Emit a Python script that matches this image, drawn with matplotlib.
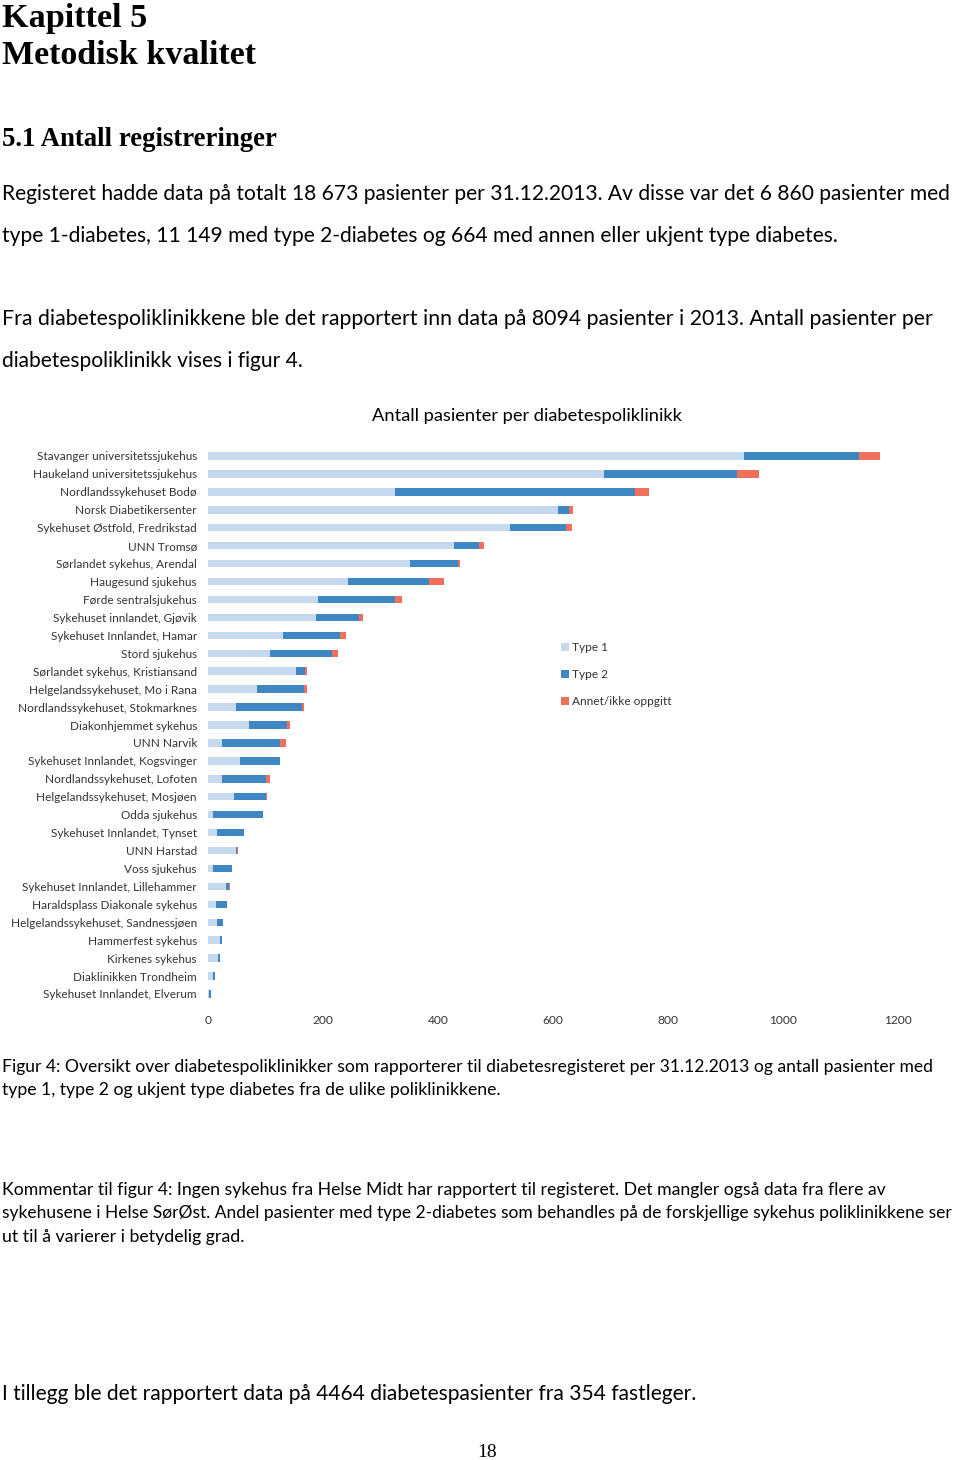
import matplotlib
matplotlib.use("Agg")
import matplotlib.pyplot as plt
from matplotlib.patches import Patch

W, H = 960, 1460
DPI = 100

clinics = [
    "Stavanger universitetssjukehus",
    "Haukeland universitetssjukehus",
    "Nordlandssykehuset Bodø",
    "Norsk Diabetikersenter",
    "Sykehuset Østfold, Fredrikstad",
    "UNN Tromsø",
    "Sørlandet sykehus, Arendal",
    "Haugesund sjukehus",
    "Førde sentralsjukehus",
    "Sykehuset innlandet, Gjøvik",
    "Sykehuset Innlandet, Hamar",
    "Stord sjukehus",
    "Sørlandet sykehus, Kristiansand",
    "Helgelandssykehuset, Mo i Rana",
    "Nordlandssykehuset, Stokmarknes",
    "Diakonhjemmet sykehus",
    "UNN Narvik",
    "Sykehuset Innlandet, Kogsvinger",
    "Nordlandssykehuset, Lofoten",
    "Helgelandssykehuset, Mosjøen",
    "Odda sjukehus",
    "Sykehuset Innlandet, Tynset",
    "UNN Harstad",
    "Voss sjukehus",
    "Sykehuset Innlandet, Lillehammer",
    "Haraldsplass Diakonale sykehus",
    "Helgelandssykehuset, Sandnessjøen",
    "Hammerfest sykehus",
    "Kirkenes sykehus",
    "Diaklinikken Trondheim",
    "Sykehuset Innlandet, Elverum",
]
type1 = [933, 688, 326, 608, 525, 427, 351, 243, 191, 188, 131, 107, 153, 86, 48,
         71, 24, 55, 24, 46, 9, 16, 48, 9, 31, 14, 16, 21, 18, 9, 2]
type2 = [200, 232, 416, 20, 97, 44, 83, 141, 135, 74, 99, 109, 16, 81, 115,
         66, 102, 71, 77, 54, 86, 46, 2, 32, 6, 19, 10, 3, 3, 3, 4]
annet = [35, 38, 25, 6, 11, 9, 5, 26, 12, 7, 10, 10, 3, 5, 4,
         5, 9, 0, 6, 2, 0, 0, 3, 0, 2, 0, 0, 0, 0, 0, 0]
series_labels = ["Type 1", "Type 2", "Annet/ikke oppgitt"]
xticks = [0, 200, 400, 600, 800, 1000, 1200]

c1, c2, c3 = "#c6d9ef", "#3f87c2", "#f1705d"

SERIF = ["Liberation Serif", "DejaVu Serif"]
SANS = ["Lato", "DejaVu Sans"]

fig = plt.figure(figsize=(W / DPI, H / DPI), dpi=DPI)
fig.patch.set_facecolor("white")
renderer = fig.canvas.get_renderer()


def fx(x):
    return x / W


def fy(y):
    return 1 - y / H


def txt(x, y, s, size, family=SANS, weight="normal", ha="left", width=None, **kw):
    t = fig.text(fx(x), fy(y), s, fontsize=size, family=family, weight=weight,
                 ha=ha, va="baseline", color="black", **kw)
    if width is not None:
        for _ in range(3):
            w = t.get_window_extent(renderer).width
            t.set_fontsize(t.get_fontsize() * width / w)
    return t


# Headings
txt(2, 27, "Kapittel 5", 24, family=SERIF, weight="bold", width=145)
txt(2, 64, "Metodisk kvalitet", 24, family=SERIF, weight="bold", width=255)
txt(2, 146, "5.1 Antall registreringer", 18, family=SERIF, weight="bold", width=275)

# Body
txt(2, 200, "Registeret hadde data på totalt 18 673 pasienter per 31.12.2013. Av disse var det 6 860 pasienter med",
    14, width=947)
txt(2, 242, "type 1-diabetes, 11 149 med type 2-diabetes og 664 med annen eller ukjent type diabetes.",
    14, width=839)
txt(2, 325, "Fra diabetespoliklinikkene ble det rapportert inn data på 8094 pasienter i 2013. Antall pasienter per",
    14, width=923)
txt(2, 367, "diabetespoliklinikk vises i figur 4.", 14, width=303)

# Chart
txt(527, 421, "Antall pasienter per diabetespoliklinikk", 13, ha="center", width=311)

n = len(clinics)
step = (994 - 456) / (n - 1)
top = 456 - 0.5 * step
bottom = 994 + 0.5 * step
ax = fig.add_axes([fx(208), fy(bottom), (898 - 208) / W, (bottom - top) / H])
ys = list(range(n))
left2 = [a for a in type1]
left3 = [a + b for a, b in zip(type1, type2)]
bh = 0.42
ax.barh(ys, type1, height=bh, color=c1, label=series_labels[0])
ax.barh(ys, type2, left=left2, height=bh, color=c2, label=series_labels[1])
ax.barh(ys, annet, left=left3, height=bh, color=c3, label=series_labels[2])
ax.set_xlim(0, 1200)
ax.set_ylim(n - 0.5, -0.5)
ax.set_yticks(ys)
ax.set_yticklabels(clinics, family=SANS, fontsize=8.5, color="#333333")
ax.set_xticks(xticks)
ax.set_xticklabels([str(v) for v in xticks], family=SANS, fontsize=8.6, color="#333333")
ax.tick_params(axis="both", length=0)
ax.tick_params(axis="y", pad=8)
ax.tick_params(axis="x", pad=9)
for s in ax.spines.values():
    s.set_visible(False)
ax.set_facecolor("none")

handles = [Patch(facecolor=c, edgecolor="none") for c in (c1, c2, c3)]
leg = fig.legend(handles, series_labels, loc="upper left",
                 bbox_to_anchor=(fx(561), fy(642)), frameon=False,
                 prop={"family": SANS, "size": 8.6}, labelspacing=1.35,
                 handlelength=0.65, handleheight=0.65, handletextpad=0.3,
                 borderpad=0, borderaxespad=0)
for t in leg.get_texts():
    t.set_color("#333333")

# Caption
txt(2, 1072, "Figur 4: Oversikt over diabetespoliklinikker som rapporterer til diabetesregisteret per 31.12.2013 og antall pasienter med",
    12, width=933)
txt(2, 1095, "type 1, type 2 og ukjent type diabetes fra de ulike poliklinikkene.", 12, width=497)

txt(2, 1195, "Kommentar til figur 4: Ingen sykehus fra Helse Midt har rapportert til registeret. Det mangler også data fra flere av",
    12, width=882)
txt(2, 1218, "sykehusene i Helse SørØst. Andel pasienter med type 2-diabetes som behandles på de forskjellige sykehus poliklinikkene ser",
    12, width=950)
txt(2, 1242, "ut til å varierer i betydelig grad.", 12, width=242)

txt(2, 1400, "I tillegg ble det rapportert data på 4464 diabetespasienter fra 354 fastleger.", 14, width=699)

txt(487, 1457, "18", 14, family=SERIF, ha="center")

fig.savefig("out.png", dpi=DPI, facecolor="white")
